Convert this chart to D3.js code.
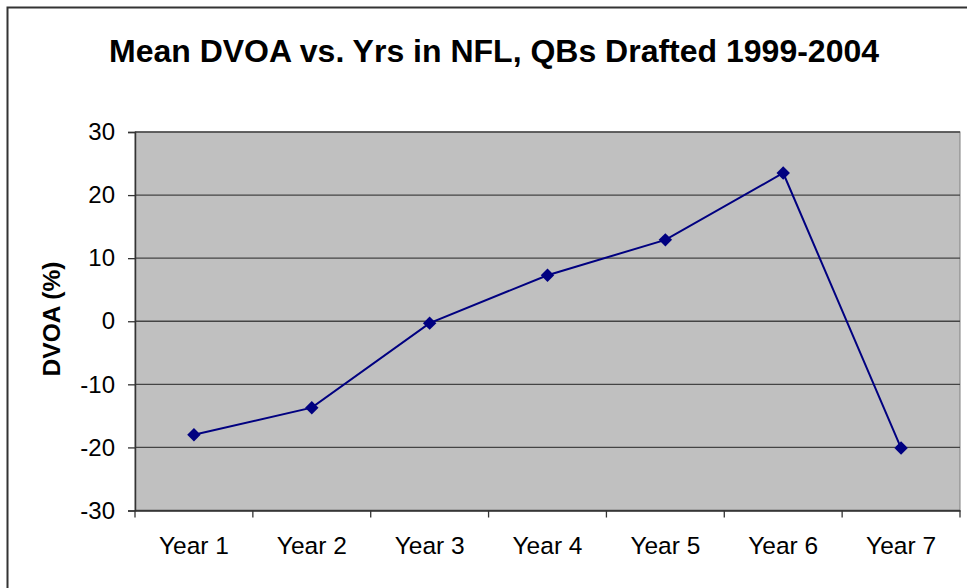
<!DOCTYPE html>
<html>
<head>
<meta charset="utf-8">
<script src="https://cdn.jsdelivr.net/npm/d3@7"></script>
<style>
  html, body { margin: 0; padding: 0; background: #fff; }
  svg { display: block; font-family: Arial, "Liberation Sans", sans-serif; }
</style>
</head>
<body>
<script>
// Mean DVOA by season in the league, QBs drafted 1999-2004
const categories = ["Year 1", "Year 2", "Year 3", "Year 4", "Year 5", "Year 6", "Year 7"];
const dvoaValues = [-18.0, -13.7, -0.3, 7.3, 12.9, 23.5, -20.1];
const yTicks = [-30, -20, -10, 0, 10, 20, 30];

const W = 967, H = 588;
const plot = { left: 135, right: 960, top: 132, bottom: 510.5 };

const svg = d3.select("body").append("svg")
  .attr("width", W).attr("height", H);

// outer chart frame
svg.append("rect")
  .attr("x", 7.5).attr("y", 7.5)
  .attr("width", W + 10).attr("height", H + 10)
  .attr("fill", "#fff").attr("stroke", "#333").attr("stroke-width", 2);

// title
svg.append("text")
  .attr("x", 494).attr("y", 62)
  .attr("text-anchor", "middle")
  .attr("font-weight", "bold").attr("font-size", 32)
  .attr("fill", "#000")
  .text("Mean DVOA vs. Yrs in NFL, QBs Drafted 1999-2004");

const x = d3.scaleBand().domain(categories).range([plot.left, plot.right]).padding(0);
const y = d3.scaleLinear().domain([-30, 30]).range([plot.bottom, plot.top]);

// plot area
svg.append("rect")
  .attr("x", plot.left).attr("y", plot.top)
  .attr("width", plot.right - plot.left).attr("height", plot.bottom - plot.top)
  .attr("fill", "#c0c0c0").attr("stroke", "#808080").attr("stroke-width", 1);

// horizontal gridlines
svg.append("g").selectAll("line").data(yTicks).join("line")
  .attr("x1", plot.left).attr("x2", plot.right)
  .attr("y1", d => y(d)).attr("y2", d => y(d))
  .attr("stroke", "#444").attr("stroke-width", 1.3);

// y axis
const yAxis = svg.append("g")
  .attr("transform", `translate(${plot.left},0)`)
  .call(d3.axisLeft(y).tickValues(yTicks).tickSize(7).tickPadding(13).tickFormat(d => String(d)));
yAxis.select(".domain").attr("stroke", "#333").attr("stroke-width", 1.5);
yAxis.selectAll(".tick line").attr("stroke", "#333").attr("stroke-width", 1.3);
yAxis.selectAll(".tick text")
  .attr("font-size", 24).attr("fill", "#000")
  .attr("font-family", "Arial, 'Liberation Sans', sans-serif");

// x axis with ticks between categories
const xAxis = svg.append("g")
  .attr("transform", `translate(0,${plot.bottom})`)
  .call(d3.axisBottom(x).tickSize(0).tickPadding(26));
xAxis.select(".domain").attr("stroke", "#333").attr("stroke-width", 1.5);
xAxis.selectAll(".tick text")
  .attr("font-size", 24.5).attr("fill", "#000")
  .attr("font-family", "Arial, 'Liberation Sans', sans-serif");
const boundaries = categories.map(c => x(c)).concat([x(categories[categories.length - 1]) + x.bandwidth()]);
xAxis.append("g").selectAll("line").data(boundaries).join("line")
  .attr("x1", d => d).attr("x2", d => d)
  .attr("y1", 0).attr("y2", 7)
  .attr("stroke", "#333").attr("stroke-width", 1.3);

// y axis title
svg.append("text")
  .attr("transform", `translate(60,319) rotate(-90)`)
  .attr("text-anchor", "middle")
  .attr("font-weight", "bold").attr("font-size", 24.5)
  .attr("fill", "#000")
  .text("DVOA (%)");

// series line
const cx = d => x(d) + x.bandwidth() / 2;
const line = d3.line()
  .x((d, i) => cx(categories[i]))
  .y(d => y(d));
svg.append("path")
  .datum(dvoaValues)
  .attr("d", line)
  .attr("fill", "none")
  .attr("stroke", "#000080").attr("stroke-width", 2);

// diamond markers
svg.append("g").selectAll("path").data(dvoaValues).join("path")
  .attr("transform", (d, i) => `translate(${cx(categories[i])},${y(d)})`)
  .attr("d", d3.symbol(d3.symbolDiamond2, 115))
  .attr("fill", "#000080");
</script>
</body>
</html>
